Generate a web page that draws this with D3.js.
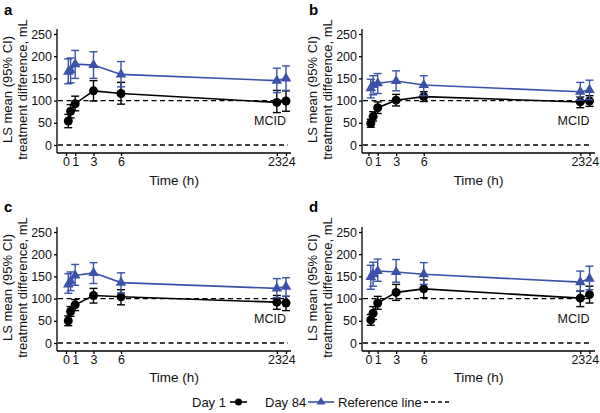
<!DOCTYPE html>
<html><head><meta charset="utf-8">
<script src="https://cdn.jsdelivr.net/npm/d3@7/dist/d3.min.js"></script>
<style>body{margin:0;background:#fff}svg{display:block;font-family:Arial,"Liberation Sans",sans-serif}</style>
</head><body><svg id="c" width="600" height="413"></svg>
<script>
const times = [0.25, 0.5, 1, 3, 6, 23, 24];
const xTicks = [0, 1, 3, 6, 23, 24];
const yTicks = [0, 50, 100, 150, 200, 250];
const panelLabels = ["a", "b", "c", "d"];
const refLines = [0, 100];
const mcidLabel = "MCID";
const legendLabels = ["Day 1", "Day 84", "Reference line"];

// Panel a
const aDay1 = [54, 76, 93, 122, 116, 96, 99];
const aDay1Lo = [39, 61, 77, 99, 92, 73, 76];
const aDay1Hi = [69, 91, 110, 145, 141, 123, 122];
const aDay84 = [165, 168, 182, 180, 159, 145, 150];
const aDay84Lo = [138, 140, 150, 150, 131, 118, 123];
const aDay84Hi = [194, 196, 213, 210, 188, 173, 178];
// Panel b
const bDay1 = [49, 64, 84, 101, 109, 97, 99];
const bDay1Lo = [40, 54, 71, 88, 98, 84, 87];
const bDay1Hi = [58, 75, 97, 114, 120, 108, 111];
const bDay84 = [128, 135, 139, 144, 135, 120, 124];
const bDay84Lo = [106, 113, 116, 122, 111, 101, 102];
const bDay84Hi = [148, 156, 161, 167, 156, 141, 146];
// Panel c
const cDay1 = [50, 71, 86, 107, 104, 92, 90];
const cDay1Lo = [39, 60, 73, 90, 86, 76, 73];
const cDay1Hi = [61, 82, 98, 123, 120, 107, 105];
const cDay84 = [132, 139, 152, 158, 136, 123, 127];
const cDay84Lo = [112, 118, 130, 134, 113, 102, 105];
const cDay84Hi = [156, 160, 177, 181, 158, 145, 147];
// Panel d
const dDay1 = [52, 67, 90, 114, 122, 101, 109];
const dDay1Lo = [40, 53, 76, 96, 102, 82, 90];
const dDay1Hi = [64, 82, 105, 132, 142, 117, 128];
const dDay84 = [149, 155, 162, 160, 155, 137, 145];
const dDay84Lo = [121, 128, 139, 137, 132, 117, 120];
const dDay84Hi = [175, 182, 189, 188, 181, 162, 173];

const panelData = [
  {day1: aDay1, day1Lo: aDay1Lo, day1Hi: aDay1Hi, day84: aDay84, day84Lo: aDay84Lo, day84Hi: aDay84Hi},
  {day1: bDay1, day1Lo: bDay1Lo, day1Hi: bDay1Hi, day84: bDay84, day84Lo: bDay84Lo, day84Hi: bDay84Hi},
  {day1: cDay1, day1Lo: cDay1Lo, day1Hi: cDay1Hi, day84: cDay84, day84Lo: cDay84Lo, day84Hi: cDay84Hi},
  {day1: dDay1, day1Lo: dDay1Lo, day1Hi: dDay1Hi, day84: dDay84, day84Lo: dDay84Lo, day84Hi: dDay84Hi}
];

const BLUE = "#3a52a8";
const svg = d3.select("#c");

const cols = [{axisX: 57, x0: 66, x24: 286, right: 291}, {axisX: 362, x0: 368.5, x24: 589.5, right: 595}];
const rows = [{y0: 145, y250: 34, top: 29, letterY: 15, titleY: 185}, {y0: 343, y250: 232, top: 227, letterY: 212, titleY: 382}];

panelData.forEach((pd, i) => {
  const col = cols[i % 2], row = rows[Math.floor(i / 2)];
  const x = d3.scaleLinear().domain([0, 24]).range([col.x0, col.x24]);
  const y = d3.scaleLinear().domain([0, 250]).range([row.y0, row.y250]);
  const g = svg.append("g");
  const axisY = row.y0 + 8;

  const ya = g.append("g").attr("transform", `translate(${col.axisX},0)`)
    .call(d3.axisLeft(y).tickValues(yTicks).tickSize(3).tickPadding(2).tickFormat(d3.format("d")));
  ya.select(".domain").attr("d", `M0,${row.top}V${axisY}`).attr("stroke", "#000").attr("stroke-width", 1.3);
  ya.selectAll(".tick line").attr("stroke", "#000").attr("stroke-width", 1.3);
  ya.selectAll(".tick text").attr("font-size", 12.5).attr("fill", "#111").attr("font-family", "Arial, Liberation Sans, sans-serif");

  const xa = g.append("g").attr("transform", `translate(0,${axisY})`)
    .call(d3.axisBottom(x).tickValues(xTicks).tickSize(3).tickPadding(1).tickFormat(d3.format("d")));
  xa.select(".domain").attr("d", `M${col.axisX},0H${col.right}`).attr("stroke", "#000").attr("stroke-width", 1.3);
  xa.selectAll(".tick line").attr("stroke", "#000").attr("stroke-width", 1.3);
  xa.selectAll(".tick text").attr("font-size", 12.5).attr("fill", "#111").attr("font-family", "Arial, Liberation Sans, sans-serif")
    .attr("text-anchor", d => d === 23 ? "end" : d === 24 ? "start" : "middle")
    .attr("dx", d => d === 23 ? 4.5 : d === 24 ? -4.8 : 0);

  g.append("text").attr("x", (col.axisX + col.right) / 2).attr("y", row.titleY)
    .attr("text-anchor", "middle").attr("font-size", 13.5).attr("fill", "#111").text("Time (h)");
  const yc = (row.y0 + row.y250) / 2;
  const lx = col.axisX - 45;
  g.append("text").attr("transform", `translate(${lx},${yc}) rotate(-90)`)
    .attr("text-anchor", "middle").attr("font-size", 13).attr("fill", "#111").text("LS mean (95% CI)");
  g.append("text").attr("transform", `translate(${lx + 14.5},${yc}) rotate(-90)`)
    .attr("text-anchor", "middle").attr("font-size", 13).attr("fill", "#111").text("treatment difference, mL");
  g.append("text").attr("x", col.axisX - 53).attr("y", row.letterY)
    .attr("font-size", 15).attr("font-weight", "bold").attr("fill", "#000").text(panelLabels[i]);

  g.selectAll(".ref").data(refLines).enter().append("line")
    .attr("x1", col.axisX + 1).attr("x2", col.right - 3)
    .attr("y1", d => y(d)).attr("y2", d => y(d))
    .attr("stroke", "#000").attr("stroke-width", 1.4).attr("stroke-dasharray", "5,3.5");
  g.append("text").attr("x", col.x24).attr("y", y(100)).attr("dy", 24)
    .attr("text-anchor", "end").attr("font-size", 12.5).attr("fill", "#111").text(mcidLabel);

  const series = [
    {m: pd.day1, lo: pd.day1Lo, hi: pd.day1Hi, color: "#000", shape: "circle"},
    {m: pd.day84, lo: pd.day84Lo, hi: pd.day84Hi, color: BLUE, shape: "tri"}
  ];
  series.forEach(s => {
    const pts = times.map((t, k) => ({t, m: s.m[k], lo: s.lo[k], hi: s.hi[k]}));
    const sg = g.append("g");
    sg.append("path").datum(pts)
      .attr("d", d3.line().x(d => x(d.t)).y(d => y(d.m)))
      .attr("fill", "none").attr("stroke", s.color).attr("stroke-width", 1.6);
    const eb = sg.selectAll(".eb").data(pts).enter().append("g");
    eb.append("line").attr("x1", d => x(d.t)).attr("x2", d => x(d.t))
      .attr("y1", d => y(d.lo)).attr("y2", d => y(d.hi))
      .attr("stroke", s.color).attr("stroke-width", 1.4);
    [d => d.lo, d => d.hi].forEach(f => {
      eb.append("line").attr("x1", d => x(d.t) - 4).attr("x2", d => x(d.t) + 4)
        .attr("y1", d => y(f(d))).attr("y2", d => y(f(d)))
        .attr("stroke", s.color).attr("stroke-width", 1.4);
    });
    if (s.shape === "circle") {
      sg.selectAll(".pt").data(pts).enter().append("circle")
        .attr("cx", d => x(d.t)).attr("cy", d => y(d.m)).attr("r", 4.5).attr("fill", s.color);
    } else {
      const tri = d3.symbol().type(d3.symbolTriangle).size(48);
      sg.selectAll(".pt").data(pts).enter().append("path")
        .attr("transform", d => `translate(${x(d.t)},${y(d.m)})`).attr("d", tri()).attr("fill", s.color);
    }
  });
});

const lg = svg.append("g").attr("font-size", 13).attr("fill", "#111");
const ly = 402;
lg.append("text").attr("x", 192).attr("y", ly + 4.5).text(legendLabels[0]);
lg.append("line").attr("x1", 230).attr("x2", 247).attr("y1", ly).attr("y2", ly).attr("stroke", "#000").attr("stroke-width", 1.6);
lg.append("circle").attr("cx", 238.5).attr("cy", ly).attr("r", 3.5).attr("fill", "#000");
lg.append("text").attr("x", 265).attr("y", ly + 4.5).text(legendLabels[1]);
lg.append("line").attr("x1", 308).attr("x2", 334).attr("y1", ly).attr("y2", ly).attr("stroke", BLUE).attr("stroke-width", 1.6);
lg.append("path").attr("transform", `translate(321,${ly})`).attr("d", d3.symbol().type(d3.symbolTriangle).size(34)()).attr("fill", BLUE);
lg.append("text").attr("x", 338).attr("y", ly + 4.5).text(legendLabels[2]);
lg.append("line").attr("x1", 424).attr("x2", 452).attr("y1", ly).attr("y2", ly).attr("stroke", "#000").attr("stroke-width", 1.6).attr("stroke-dasharray", "4,3");
</script></body></html>
